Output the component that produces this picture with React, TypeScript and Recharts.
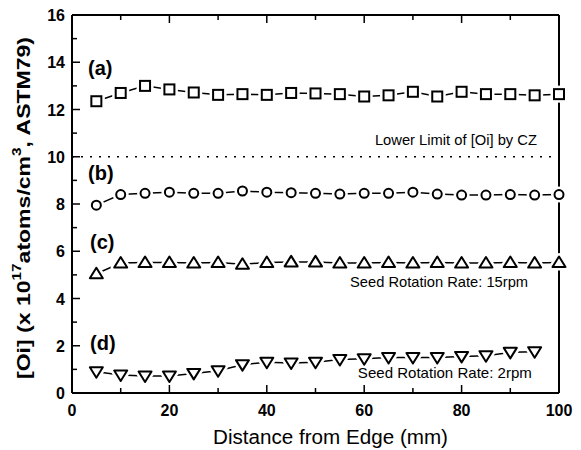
import { LineChart, Line, XAxis, YAxis, ReferenceLine, ReferenceDot } from "recharts";

// Distance from edge (mm)
const distance = [5, 10, 15, 20, 25, 30, 35, 40, 45, 50, 55, 60, 65, 70, 75, 80, 85, 90, 95, 100];

// [Oi] (x10^17 atoms/cm^3)
const seriesA = [12.35, 12.7, 13.0, 12.85, 12.72, 12.62, 12.65, 12.62, 12.7, 12.68, 12.65, 12.55, 12.6, 12.75, 12.55, 12.75, 12.65, 12.65, 12.6, 12.65];
const seriesB = [7.95, 8.4, 8.45, 8.5, 8.45, 8.45, 8.55, 8.5, 8.48, 8.45, 8.42, 8.45, 8.45, 8.5, 8.42, 8.38, 8.38, 8.4, 8.38, 8.4];
const seriesC = [5.05, 5.5, 5.52, 5.52, 5.5, 5.52, 5.45, 5.52, 5.55, 5.55, 5.5, 5.5, 5.52, 5.5, 5.52, 5.5, 5.5, 5.52, 5.5, 5.52];
const seriesD = [0.9, 0.76, 0.72, 0.72, 0.83, 0.94, 1.2, 1.3, 1.27, 1.3, 1.42, 1.45, 1.5, 1.5, 1.5, 1.55, 1.58, 1.72, 1.75];

const xTicks = [0, 10, 20, 30, 40, 50, 60, 70, 80, 90, 100];
const yTicks = [0, 1, 2, 3, 4, 5, 6, 7, 8, 9, 10, 11, 12, 13, 14, 15, 16];
const lowerLimit = 10;

const data = distance.map((x, i) => ({
  x,
  a: seriesA[i],
  b: seriesB[i],
  c: seriesC[i],
  d: seriesD[i] ?? null,
}));

const FONT = "'Liberation Sans', Arial, sans-serif";
const INK = "#000";

function BottomTick({ x, y, payload }: any) {
  const major = payload.value % 20 === 0;
  return (
    <g>
      <line x1={x} x2={x} y1={y} y2={y - (major ? 8 : 5)} stroke={INK} strokeWidth={1.5} />
      {major && (
        <text x={x} y={y + 23} textAnchor="middle" fontSize={16} fontWeight="bold" fontFamily={FONT} fill={INK}>
          {payload.value}
        </text>
      )}
    </g>
  );
}

function TopTick({ x, y, payload }: any) {
  const major = payload.value % 20 === 0;
  return <line x1={x} x2={x} y1={y} y2={y + (major ? 8 : 5)} stroke={INK} strokeWidth={1.5} />;
}

function LeftTick({ x, y, payload }: any) {
  const major = payload.value % 2 === 0;
  return (
    <g>
      <line x1={x} x2={x + (major ? 8 : 5)} y1={y} y2={y} stroke={INK} strokeWidth={1.5} />
      {major && (
        <text x={x - 7} y={y + 6} textAnchor="end" fontSize={16} fontWeight="bold" fontFamily={FONT} fill={INK}>
          {payload.value}
        </text>
      )}
    </g>
  );
}

function RightTick({ x, y, payload }: any) {
  const major = payload.value % 2 === 0;
  return <line x1={x} x2={x - (major ? 8 : 5)} y1={y} y2={y} stroke={INK} strokeWidth={1.5} />;
}

// hollow markers with a white halo so the connecting line stops short of them
function marker(kind: string) {
  return (p: any) => {
    const { cx, cy, index } = p;
    if (cx == null || cy == null || p.value == null) return <g key={`${kind}-${index}`} />;
    let shape: (stroke: string, w: number) => any;
    if (kind === "square") {
      shape = (s, w) => <rect x={cx - 5} y={cy - 5} width={10} height={10} fill="#fff" stroke={s} strokeWidth={w} />;
    } else if (kind === "circle") {
      shape = (s, w) => <circle cx={cx} cy={cy} r={4.5} fill="#fff" stroke={s} strokeWidth={w} />;
    } else if (kind === "up") {
      shape = (s, w) => (
        <polygon points={`${cx},${cy - 6} ${cx - 6.5},${cy + 4.5} ${cx + 6.5},${cy + 4.5}`} fill="#fff" stroke={s} strokeWidth={w} strokeLinejoin="round" />
      );
    } else {
      shape = (s, w) => (
        <polygon points={`${cx - 6.5},${cy - 4.5} ${cx + 6.5},${cy - 4.5} ${cx},${cy + 6}`} fill="#fff" stroke={s} strokeWidth={w} strokeLinejoin="round" />
      );
    }
    return (
      <g key={`${kind}-${index}`}>
        {shape("#fff", 7)}
        {shape(INK, 2)}
      </g>
    );
  };
}

function note(text: string, size: number, bold: boolean, len?: number) {
  return (p: any) => (
    <text
      x={p.cx}
      y={p.cy + size * 0.35}
      fontSize={size}
      fontWeight={bold ? "bold" : "normal"}
      fontFamily={FONT}
      fill={INK}
      textLength={len}
      lengthAdjust={len ? "spacingAndGlyphs" : undefined}
    >
      {text}
    </text>
  );
}

function YLabel({ viewBox }: any) {
  const cx = viewBox.x + 12;
  const cy = 208;
  return (
    <text
      x={cx}
      y={cy}
      transform={`rotate(-90 ${cx} ${cy})`}
      textAnchor="middle"
      dominantBaseline="central"
      fontSize={18}
      fontWeight="bold"
      fontFamily={FONT}
      fill={INK}
      textLength={342}
      lengthAdjust="spacingAndGlyphs"
    >
      <tspan>[Oi] (x 10</tspan>
      <tspan dy={-7} fontSize={12}>17</tspan>
      <tspan dy={7}>atoms/cm</tspan>
      <tspan dy={-7} fontSize={12}>3</tspan>
      <tspan dy={7}>, ASTM79)</tspan>
    </text>
  );
}

function XLabel({ viewBox }: any) {
  return (
    <text
      x={viewBox.x + viewBox.width / 2 + 15}
      y={viewBox.y + 51}
      textAnchor="middle"
      fontSize={20}
      fontFamily={FONT}
      fill={INK}
      textLength={235}
      lengthAdjust="spacingAndGlyphs"
    >
      Distance from Edge (mm)
    </text>
  );
}

export default function App() {
  return (
    <div style={{ position: "absolute", left: 0, top: 0, width: 581, height: 450, background: "#fff" }}>
      <LineChart width={581} height={450} data={data} margin={{ top: 14, right: 20, bottom: 7, left: 12 }}>
        <XAxis
          xAxisId={0}
          type="number"
          dataKey="x"
          domain={[0, 100]}
          ticks={xTicks}
          tick={<BottomTick />}
          tickLine={false}
          tickSize={0}
          tickMargin={0}
          axisLine={{ stroke: INK, strokeWidth: 2 }}
          height={50}
          interval={0}
          label={<XLabel />}
        />
        <XAxis
          xAxisId="top"
          orientation="top"
          type="number"
          dataKey="x"
          domain={[0, 100]}
          ticks={xTicks}
          tick={<TopTick />}
          tickLine={false}
          tickSize={0}
          tickMargin={0}
          axisLine={{ stroke: INK, strokeWidth: 2 }}
          height={1}
          interval={0}
        />
        <YAxis
          yAxisId={0}
          type="number"
          domain={[0, 16]}
          ticks={yTicks}
          tick={<LeftTick />}
          tickLine={false}
          tickSize={0}
          tickMargin={0}
          axisLine={{ stroke: INK, strokeWidth: 2 }}
          width={60}
          interval={0}
          label={<YLabel />}
        />
        <YAxis
          yAxisId="right"
          orientation="right"
          type="number"
          domain={[0, 16]}
          ticks={yTicks}
          tick={<RightTick />}
          tickLine={false}
          tickSize={0}
          tickMargin={0}
          axisLine={{ stroke: INK, strokeWidth: 2 }}
          width={2}
          interval={0}
        />
        <ReferenceLine y={lowerLimit} stroke={INK} strokeWidth={1.5} strokeDasharray="2 7" />
        <Line dataKey="a" stroke={INK} strokeWidth={1.5} dot={marker("square")} isAnimationActive={false} />
        <Line dataKey="b" stroke={INK} strokeWidth={1.5} dot={marker("circle")} isAnimationActive={false} />
        <Line dataKey="c" stroke={INK} strokeWidth={1.5} dot={marker("up")} isAnimationActive={false} />
        <Line dataKey="d" stroke={INK} strokeWidth={1.5} dot={marker("down")} isAnimationActive={false} connectNulls={false} />
        <ReferenceDot x={3.3} y={13.76} r={0} shape={note("(a)", 20, true)} />
        <ReferenceDot x={3.3} y={9.31} r={0} shape={note("(b)", 20, true)} />
        <ReferenceDot x={3.7} y={6.39} r={0} shape={note("(c)", 20, true)} />
        <ReferenceDot x={3.7} y={2.12} r={0} shape={note("(d)", 20, true)} />
        <ReferenceDot x={62.2} y={10.71} r={0} shape={note("Lower Limit of [Oi] by CZ", 15, false, 162)} />
        <ReferenceDot x={57.1} y={4.7} r={0} shape={note("Seed Rotation Rate: 15rpm", 15, false, 178)} />
        <ReferenceDot x={58.7} y={0.85} r={0} shape={note("Seed Rotation Rate: 2rpm", 15, false, 174)} />
      </LineChart>
    </div>
  );
}
